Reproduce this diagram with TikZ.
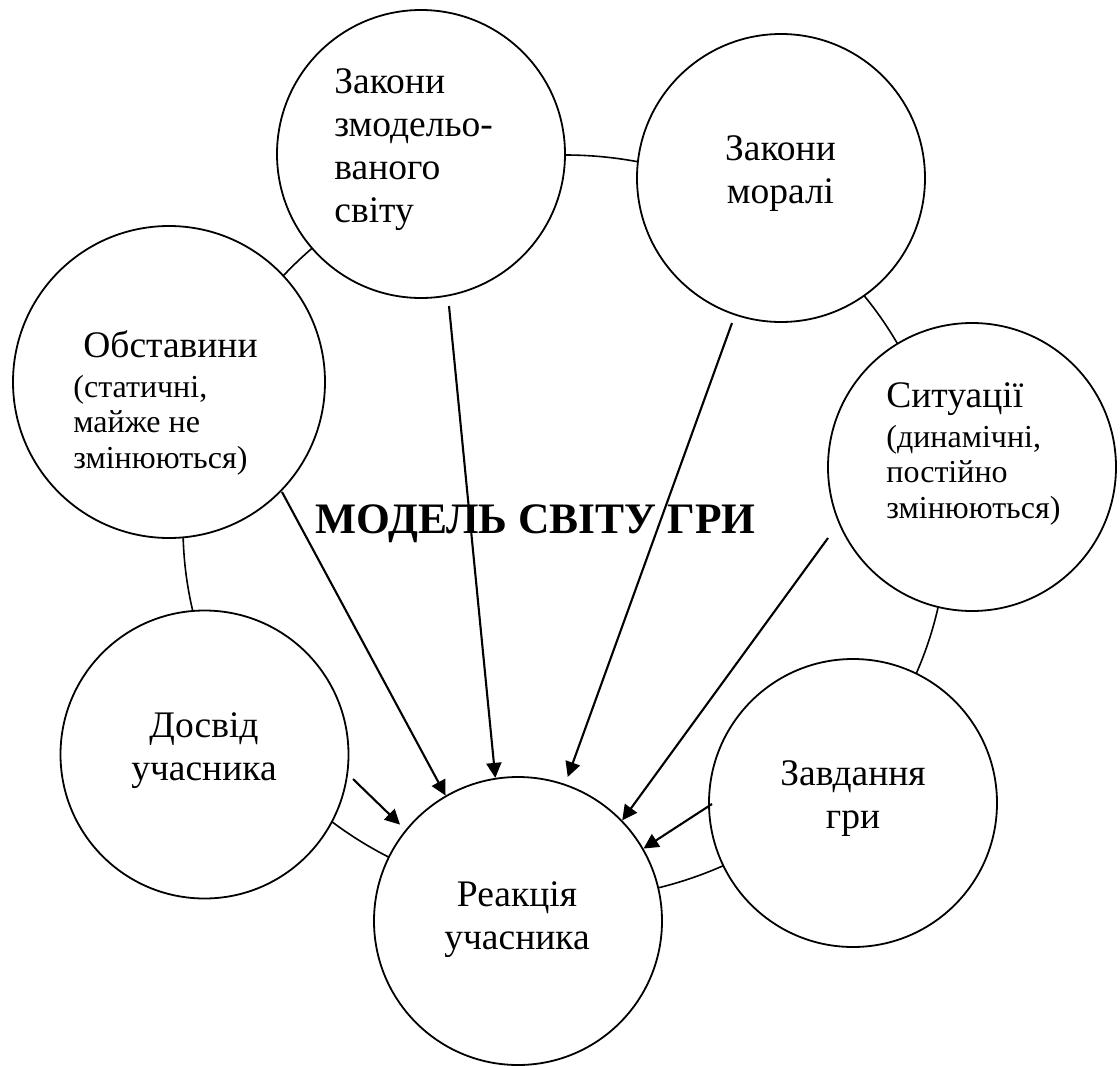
\documentclass[tikz,border=0pt]{standalone}
\usepackage{fontspec}
\setmainfont{Liberation Serif}
\usetikzlibrary{arrows.meta}
\begin{document}
\begin{tikzpicture}[x=0.5pt,y=-0.5pt,
  bubble/.style={circle,draw,line width=0.9pt,fill=white,inner sep=0pt,minimum size=144pt},
  lbl/.style={inner sep=0pt,font=\fontsize{18.75pt}{21.5pt}\selectfont},
  sml/.style={inner sep=0pt,font=\fontsize{16pt}{17.6pt}\selectfont},
  arr/.style={line width=1.05pt,-{Triangle[length=7.5pt,width=7.5pt]}},
  ring/.style={line width=0.8pt}]
\useasboundingbox (0,0) rectangle (1120,1066);
\draw[ring] (565,527) ellipse [x radius=191pt, y radius=186pt];
\node[bubble] (c1) at (421,154) {};
\node[bubble] (c2) at (781,178) {};
\node[bubble,minimum size=156pt] (c3) at (169,382) {};
\node[bubble] (c4) at (972,467) {};
\node[bubble] (c5) at (204.5,754.5) {};
\node[bubble] (c6) at (853,803) {};
\node[bubble] (c7) at (518,921) {};
\node[lbl,align=left,anchor=base west] (t1) at (334,222) {Закони\\змодельо-\\ваного\\світу};
\node[lbl,align=center,anchor=base] (t2) at (780.5,203) {Закони\\моралі};
\node[lbl,anchor=base west] (t3a) at (83,357) {Обставини};
\node[sml,align=left,anchor=base west] (t3b) at (73,468) {(статичні,\\майже не\\змінюються)};
\node[lbl,anchor=base west] (t4a) at (886,407) {Ситуації};
\node[sml,align=left,anchor=base west] (t4b) at (886,518) {(динамічні,\\постійно\\змінюються)};
\node[lbl,align=center,anchor=base] (t5) at (204,780) {Досвід\\учасника};
\node[lbl,align=center,anchor=base] (t6) at (853,828) {Завдання\\гри};
\node[lbl,align=center,anchor=base] (t7) at (517,949) {Реакція\\учасника};
\node[inner sep=0pt,font=\fontsize{21.75pt}{26pt}\selectfont\bfseries,anchor=base] (title) at (535.5,533) {МОДЕЛЬ СВІТУ ГРИ};
\coordinate (s1) at (353,779);
\coordinate (s2) at (282,492);
\coordinate (s3) at (449,306);
\coordinate (s4) at (732,323);
\coordinate (s5) at (828,538);
\coordinate (s6) at (712,804);
\draw[arr,shorten >=3.75pt] (s1) -- (c7.141.2);
\draw[arr] (s2) -- (c7.120.6);
\draw[arr] (s3) -- (c7.99.8);
\draw[arr,shorten >=3.75pt] (s4) -- (c7.71.9);
\draw[arr] (s5) -- (c7.44.7);
\draw[arr] (s6) -- (c7.30.1);
\end{tikzpicture}
\end{document}
